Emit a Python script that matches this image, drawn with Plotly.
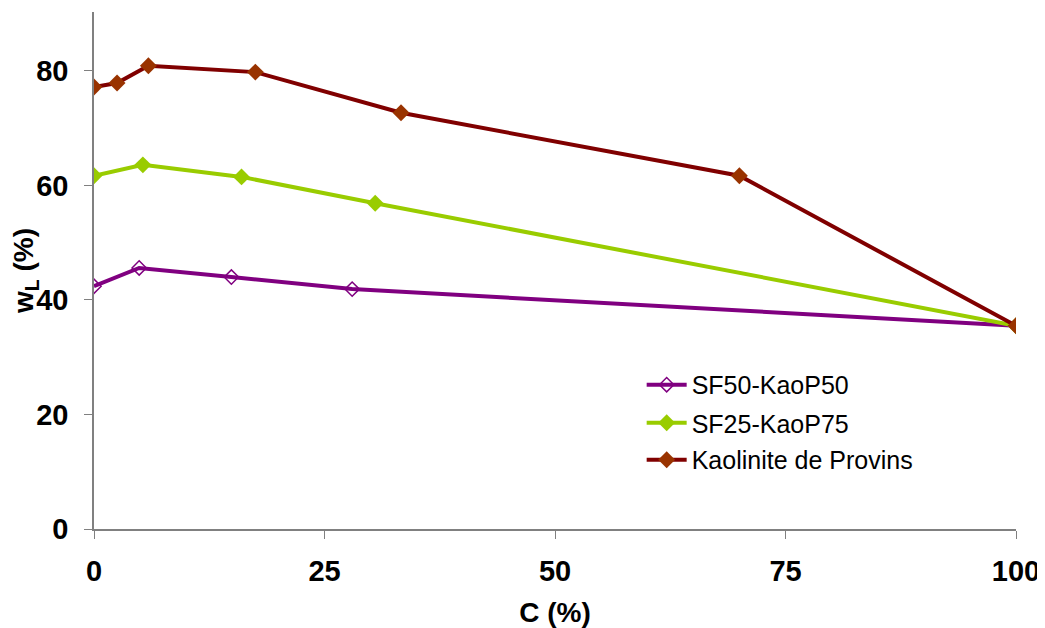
import plotly.graph_objects as go

sf50_x = [0, 4.9, 14.9, 28.0, 100]
sf50_y = [42.4, 45.6, 44.0, 41.9, 35.5]
sf25_x = [0, 5.3, 16.0, 30.5, 100]
sf25_y = [61.7, 63.6, 61.5, 56.9, 35.5]
kao_x = [0, 2.5, 5.9, 17.5, 33.3, 70.0, 100]
kao_y = [77.2, 77.9, 80.9, 79.8, 72.7, 61.7, 35.5]

FONT = "Liberation Sans"

fig = go.Figure()
fig.add_trace(go.Scatter(x=sf50_x, y=sf50_y, mode="lines+markers", name="SF50-KaoP50",
                         legend="legend",
                         line=dict(color="#800080", width=4),
                         marker=dict(symbol="diamond-open", size=11, color="#800080", line=dict(width=1.5))))
fig.add_trace(go.Scatter(x=sf25_x, y=sf25_y, mode="lines+markers", name="SF25-KaoP75",
                         legend="legend2",
                         line=dict(color="#99CC00", width=4),
                         marker=dict(symbol="diamond", size=13, color="#99CC00")))
fig.add_trace(go.Scatter(x=kao_x, y=kao_y, mode="lines+markers", name="Kaolinite de Provins",
                         legend="legend3",
                         line=dict(color="#800000", width=4),
                         marker=dict(symbol="diamond", size=13, color="#993300")))

leg = dict(x=0.594, xanchor="left", yanchor="middle",
           font=dict(size=25, family=FONT), bgcolor="rgba(0,0,0,0)", itemwidth=40)
fig.update_layout(
    width=1037, height=620,
    margin=dict(l=86, r=29, t=4, b=99),
    plot_bgcolor="white", paper_bgcolor="white",
    font=dict(family=FONT, color="black"),
    showlegend=True,
    legend=dict(leg, y=0.2786),
    legend2=dict(leg, y=0.205),
    legend3=dict(leg, y=0.1335),
)
fig.update_xaxes(range=[0, 100], tickvals=[0, 25, 50, 75, 100],
                 ticks="outside", ticklen=8, tickcolor="#808080",
                 showline=True, linecolor="#808080", linewidth=1.5,
                 showgrid=False, zeroline=False, automargin=False,
                 ticklabeloverflow="allow",
                 tickfont=dict(size=29, family=FONT, weight="bold"),
                 ticklabelstandoff=7,
                 title=dict(text="C (%)", font=dict(size=28, family=FONT, weight="bold"), standoff=17))
fig.update_yaxes(range=[0, 90.3], tickvals=[0, 20, 40, 60, 80],
                 ticks="outside", ticklen=8, tickcolor="#808080",
                 showline=True, linecolor="#808080", linewidth=1.5,
                 showgrid=False, zeroline=False, automargin=False,
                 ticklabeloverflow="allow",
                 tickfont=dict(size=29, family=FONT, weight="bold"),
                 ticklabelstandoff=10,
                 title=dict(text="w<sub>L</sub> (%)", font=dict(size=28, family=FONT, weight="bold"), standoff=10))

fig.write_html("out.html")
